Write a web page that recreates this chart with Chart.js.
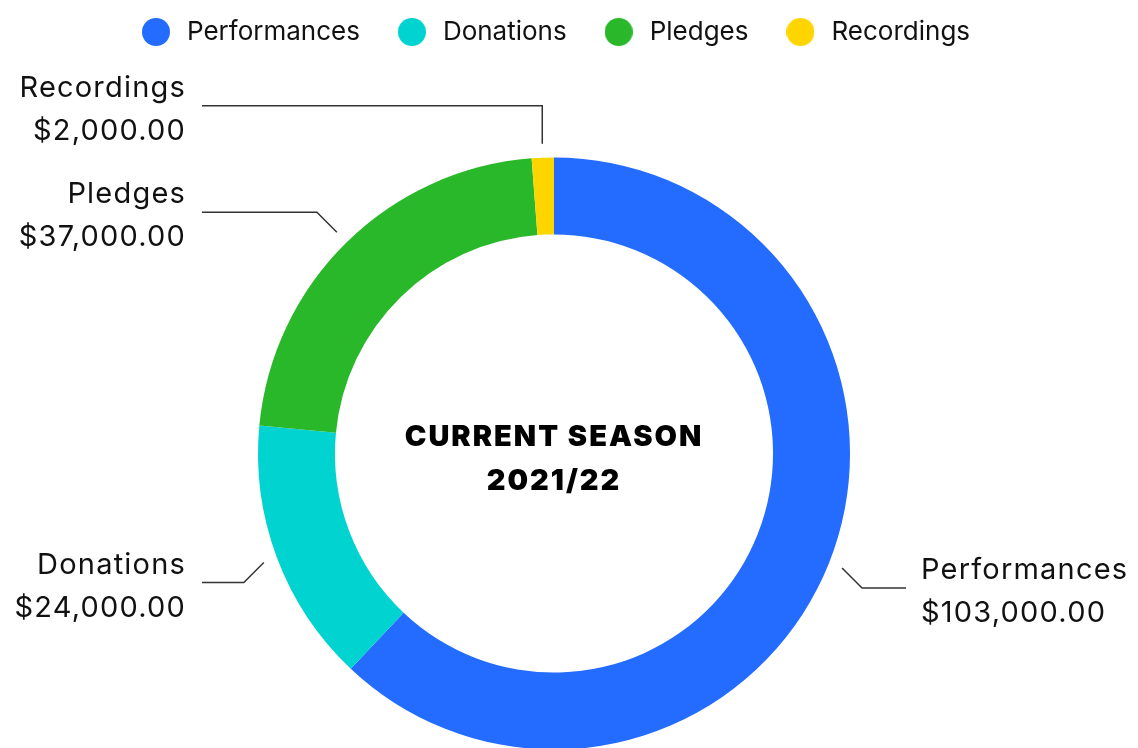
<!DOCTYPE html>
<html>
<head>
<meta charset="utf-8">
<script src="https://cdn.jsdelivr.net/npm/chart.js@4.4.1/dist/chart.umd.min.js"></script>
<style>
  html, body { margin: 0; padding: 0; background: #fff; }
  #wrap { width: 1138px; height: 748px; position: relative; }
</style>
</head>
<body>
<div id="wrap"><canvas id="seasonChart"></canvas></div>
<script>
// ——— DATA ———
const categories = ['Performances', 'Donations', 'Pledges', 'Recordings'];
const amounts = [103000, 24000, 37000, 2000];
const sliceColors = ['#246BFF', '#00D3D0', '#2AB82B', '#FFD500'];
const centerLines = ['CURRENT SEASON', '2021/22'];

const FONT = 'Inter, "Noto Sans", sans-serif';
const money = v => '$' + v.toLocaleString('en-US', { minimumFractionDigits: 2 });

// round legend markers, one little canvas per colour
function dot(color, d) {
    const c = document.createElement('canvas');
    c.width = d; c.height = d;
    const g = c.getContext('2d');
    g.fillStyle = color;
    g.beginPath();
    g.arc(d / 2, d / 2, d / 2, 0, Math.PI * 2);
    g.fill();
    return c;
}
const dots = sliceColors.map(c => dot(c, 28));

// ——— PLUGINS ———
// leave a gap between the legend and the ring
const ringDrop = {
    id: 'ringDrop',
    afterLayout(chart) {
        chart.chartArea.top += 104;
        chart.chartArea.height = chart.chartArea.bottom - chart.chartArea.top;
    }
};

const outLabels = {
    id: 'outLabels',
    afterDatasetsDraw(chart) {
        const { ctx } = chart;
        const meta = chart.getDatasetMeta(0);
        ctx.save();
        meta.data.forEach((arc, i) => {
            const { x, y, startAngle, endAngle, outerRadius } =
                arc.getProps(['x', 'y', 'startAngle', 'endAngle', 'outerRadius'], true);
            const mid = (startAngle + endAngle) / 2;
            const cos = Math.cos(mid), sin = Math.sin(mid);
            const right = cos >= 0;
            const x1 = x + cos * (outerRadius + 14), y1 = y + sin * (outerRadius + 14);
            let x2, y2;
            if (Math.abs(cos) < 0.2) {
                // near the top or bottom: straight up/down
                x2 = x1; y2 = y1 + Math.sign(sin) * 38;
            } else {
                // 45° kink then across
                x2 = x1 + Math.sign(cos) * 20; y2 = y1 + Math.sign(sin) * 20;
            }
            const x3 = right ? x + outerRadius + 56 : x - outerRadius - 56;

            ctx.strokeStyle = '#333';
            ctx.lineWidth = 1.5;
            ctx.beginPath();
            ctx.moveTo(x1, y1);
            ctx.lineTo(x2, y2);
            ctx.lineTo(x3, y2);
            ctx.stroke();

            ctx.fillStyle = '#111';
            ctx.font = '29px ' + FONT;
            ctx.letterSpacing = '1.2px';
            ctx.textBaseline = 'alphabetic';
            ctx.textAlign = right ? 'left' : 'right';
            const tx = right ? x3 + 15 : x3 - 16;
            ctx.fillText(categories[i], tx, y2 - 9);
            ctx.fillText(money(amounts[i]), tx, y2 + 34);
        });
        ctx.restore();
    }
};

const centerText = {
    id: 'centerText',
    afterDatasetsDraw(chart) {
        const { ctx } = chart;
        const arc = chart.getDatasetMeta(0).data[0];
        ctx.save();
        ctx.fillStyle = '#000';
        ctx.font = '900 29px ' + FONT;
        ctx.letterSpacing = '2px';
        ctx.textAlign = 'center';
        ctx.textBaseline = 'middle';
        ctx.fillText(centerLines[0], arc.x, arc.y - 16);
        ctx.fillText(centerLines[1], arc.x, arc.y + 28);
        ctx.restore();
    }
};

// ——— CHART ———
const ctx = document.getElementById('seasonChart').getContext('2d');
new Chart(ctx, {
    type: 'doughnut',
    data: {
        labels: categories,
        datasets: [{
            data: amounts,
            backgroundColor: sliceColors,
            borderWidth: 0,
            radius: 296,
            cutout: '74%'
        }]
    },
    options: {
        responsive: true,
        maintainAspectRatio: false,
        animation: false,
        layout: { padding: { top: -15, bottom: 0, left: 0, right: 30 } },
        plugins: {
            tooltip: { enabled: false },
            legend: {
                position: 'top',
                labels: {
                    usePointStyle: true,
                    pointStyleWidth: 36,
                    boxHeight: 26,
                    padding: 34,
                    color: '#111',
                    font: { family: FONT, size: 26 },
                    generateLabels: chart => {
                        const items = Chart.overrides.doughnut.plugins.legend.labels.generateLabels(chart);
                        return items.map((it, i) => ({ ...it, pointStyle: dots[i] }));
                    }
                }
            }
        }
    },
    plugins: [ringDrop, outLabels, centerText]
});
</script>
</body>
</html>
